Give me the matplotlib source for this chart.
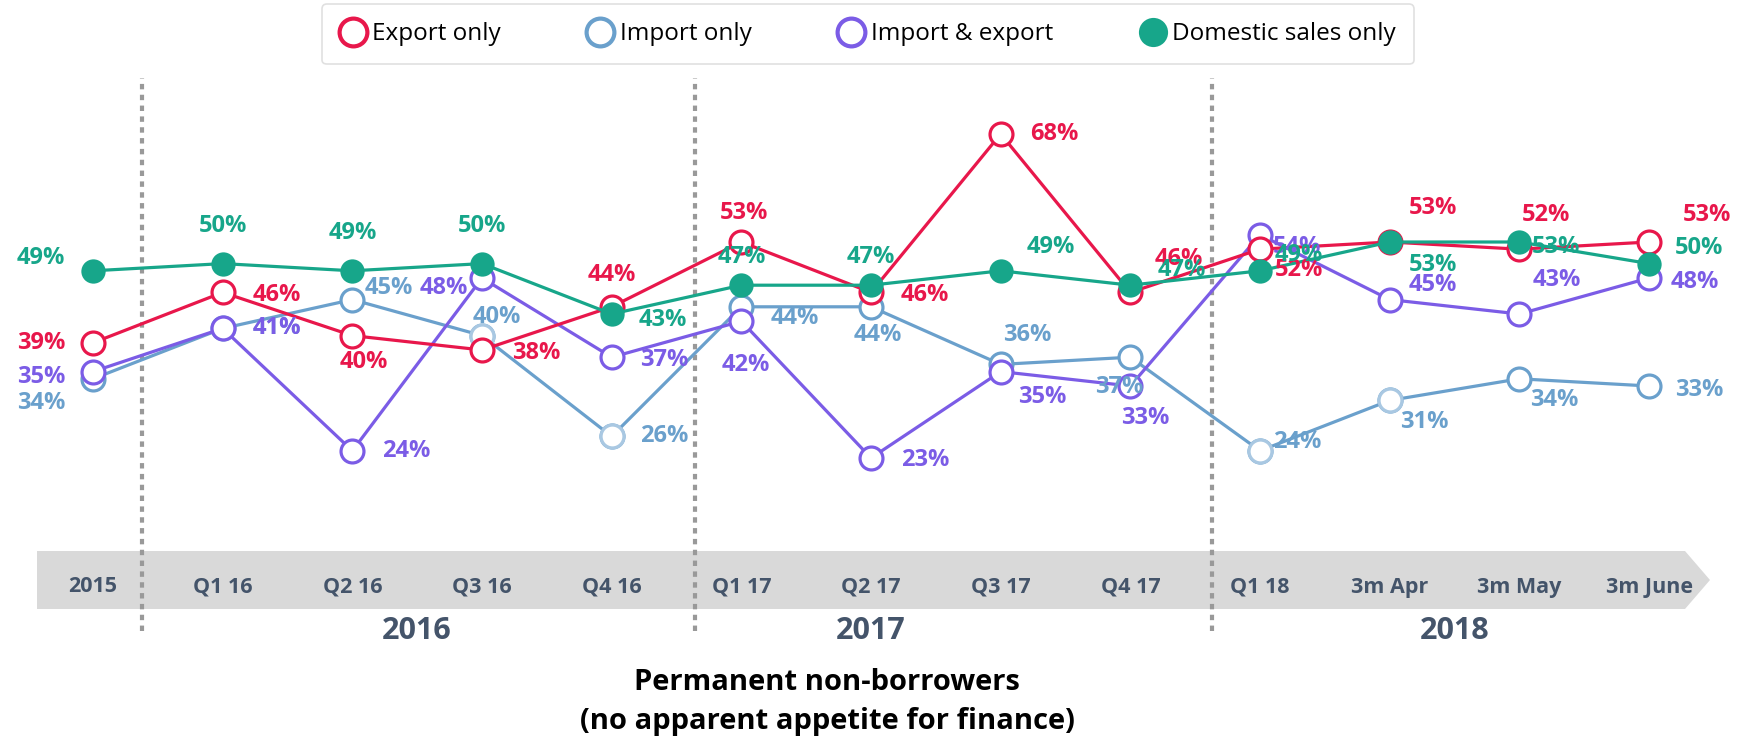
import matplotlib
matplotlib.use('Agg')
import matplotlib.pyplot as plt
from matplotlib.lines import Line2D
from matplotlib.patches import Polygon
from matplotlib.transforms import blended_transform_factory

plt.rcParams['font.family'] = ['Open Sans', 'DejaVu Sans']

# Data
categories = ['2015', 'Q1 16', 'Q2 16', 'Q3 16', 'Q4 16', 'Q1 17', 'Q2 17', 'Q3 17',
              'Q4 17', 'Q1 18', '3m Apr', '3m May', '3m June']
export_only = [39, 46, 40, 38, 44, 53, 46, 68, 46, 52, 53, 52, 53]
import_only = [34, 41, 45, 40, 26, 44, 44, 36, 37, 24, 31, 34, 33]
import_export = [35, 41, 24, 48, 37, 42, 23, 35, 33, 54, 45, 43, 48]
domestic_only = [49, 50, 49, 50, 43, 47, 47, 49, 47, 49, 53, 53, 50]
years = ['2016', '2017', '2018']
year_pos = [2.5, 6.0, 10.5]
dividers = [0.38, 4.64, 8.63]

# label offsets (pixels, right / down) for each point
export_off = [(-52, 0), (54, 3), (11, 26), (54, 3), (0, -32), (3, -29), (54, 3), (54, 0),
              (48, -33), (39, 21), (43, -34), (27, -34), (58, -27)]
import_off = [(-52, 24), (54, 0), (36, -12), (15, -19), (53, 0), (53, 11), (7, 28), (27, -29),
              (-11, 30), (37, -9), (35, 22), (35, 21), (50, 4)]
both_off = [(-52, 5), (54, 0), (54, 0), (-38, 10), (53, 3), (4, 44), (54, 2), (42, 25),
            (15, 32), (37, 12), (43, -15), (37, -34), (46, 4)]
dom_off = [(-52, -13), (0, -38), (0, -38), (0, -38), (51, 6), (0, -28), (0, -28), (50, -24),
           (51, -15), (39, -16), (43, 23), (37, 5), (50, -16)]

red = '#E8174B'
blue = '#6AA0CC'
light_blue = '#A9C8E2'
purple = '#7B5CE6'
green = '#17A68A'
slate = '#44546A'

W, H = 1752, 740
figure = plt.figure(figsize=(W / 100, H / 100), dpi=100)
ax = figure.add_axes([0, 0, 1, 1])
ax.axis('off')

# pixel mapping: x index 0 -> 93px, step 129.67px ; value 68 -> 134px, 7.2px per %
step = 129.67
ax.set_xlim(-93 / step, (W - 93) / step)
ax.set_ylim(68 - (H - 134) / 7.2, 68 + 134 / 7.2)

x = list(range(len(categories)))

# grey arrow band for the category axis
band = Polygon([(37 / W, 1 - 551 / H), (1685 / W, 1 - 551 / H), (1710 / W, 1 - 580 / H),
                (1685 / W, 1 - 609 / H), (37 / W, 1 - 609 / H)],
               closed=True, transform=ax.transAxes, facecolor='#D9D9D9', edgecolor='none', zorder=0)
ax.add_patch(band)

# year dividers
for d in dividers:
    ax.axvline(d, ymin=1 - 631 / H, ymax=1 - 78 / H, color='#999999', lw=3,
               linestyle=(0, (1.3, 1.3)), zorder=1)

trans = blended_transform_factory(ax.transData, ax.transAxes)
for i, c in enumerate(categories):
    ax.text(i, 1 - 587 / H, c, transform=trans, ha='center', va='center',
            fontsize=15.5, fontweight='bold', color=slate)
for p, yr in zip(year_pos, years):
    ax.text(p, 1 - 631 / H, yr, transform=trans, ha='center', va='center',
            fontsize=22, fontweight='bold', color=slate)

ax.text(827 / W, 1 - 682 / H, 'Permanent non-borrowers', transform=ax.transAxes,
        ha='center', va='center', fontsize=21, fontweight='bold', color='black')
ax.text(827 / W, 1 - 721 / H, '(no apparent appetite for finance)', transform=ax.transAxes,
        ha='center', va='center', fontsize=21, fontweight='bold', color='black')

# lines
ms = 16.5
mew = 2.3
lw = 2.3
ax.plot(x, import_only, color=blue, lw=lw, marker='o', ms=ms, mfc='white', mec=blue, mew=mew, zorder=3)
light = [3, 4, 9, 10]
ax.plot([x[i] for i in light], [import_only[i] for i in light], ls='none', marker='o', ms=ms,
        mfc='white', mec=light_blue, mew=mew, zorder=3.1)
ax.plot(x, import_export, color=purple, lw=lw, marker='o', ms=ms, mfc='white', mec=purple, mew=mew, zorder=4)
ax.plot(x, export_only, color=red, lw=lw, marker='o', ms=ms, mfc='white', mec=red, mew=mew, zorder=5)
ax.plot(x, domestic_only, color=green, lw=lw, marker='o', ms=17.5, mfc=green, mec=green, mew=0, zorder=6)

# data labels
for vals, offs, col in [(import_only, import_off, blue), (import_export, both_off, purple),
                        (export_only, export_off, red), (domestic_only, dom_off, green)]:
    for i, v in enumerate(vals):
        dx, dy = offs[i]
        ax.annotate('%d%%' % v, xy=(i, v), xytext=(dx, -dy), textcoords='offset pixels',
                    ha='center', va='center', fontsize=17, fontweight='bold', color=col, zorder=7)

# legend
handles = [Line2D([], [], ls='none', marker='o', ms=20, mfc='white', mec=red, mew=3, label='Export only'),
           Line2D([], [], ls='none', marker='o', ms=20, mfc='white', mec=blue, mew=3, label='Import only'),
           Line2D([], [], ls='none', marker='o', ms=20, mfc='white', mec=purple, mew=3, label='Import & export'),
           Line2D([], [], ls='none', marker='o', ms=21, mfc=green, mec=green, mew=0, label='Domestic sales only')]
leg = ax.legend(handles=handles, loc='upper center', bbox_to_anchor=(868 / W, 1 - 4 / H), ncol=4,
                fontsize=17.5, frameon=True, fancybox=True, edgecolor='#D9D9D9', handlelength=1.0,
                handletextpad=0.3, columnspacing=3.6, borderpad=0.75, borderaxespad=0.0)
leg.get_frame().set_linewidth(1.2)

figure.savefig('out.png', dpi=100)
